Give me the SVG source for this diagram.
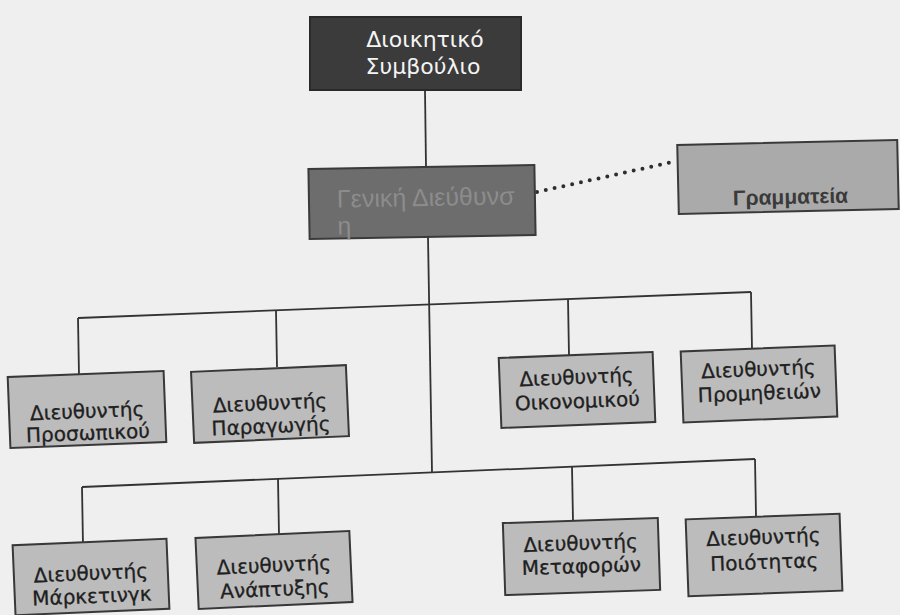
<svg xmlns="http://www.w3.org/2000/svg" width="900" height="615" viewBox="0 0 900 615">
<style>
.bg{fill:#efefef}
.dir rect{fill:#bcbcbc;stroke:#383838;stroke-width:2}
.dir text{font-family:"DejaVu Sans","Liberation Sans",sans-serif;font-size:20px;fill:#202020;stroke:#202020;stroke-width:0.3;text-anchor:middle}
.top rect{fill:#3b3b3b;stroke:#2a2a2a;stroke-width:2}
.top text{font-family:"DejaVu Sans","Liberation Sans",sans-serif;font-size:22px;fill:#f4f4f4;text-anchor:middle}
.gen rect{fill:#6d6d6d;stroke:#3a3a3a;stroke-width:2}
.gen text{font-family:"Liberation Sans",Arial,sans-serif;font-size:25px;fill:#8c8c8c}
.sec rect{fill:#aaaaaa;stroke:#3a3a3a;stroke-width:2}
.sec text{font-family:"Liberation Sans",Arial,sans-serif;font-size:21px;font-weight:bold;fill:#3a3a3a;text-anchor:middle}
.conn line{stroke:#333;stroke-width:1.8;fill:none}
.conn .dot{stroke:#2e2e2e;stroke-width:4;stroke-linecap:round;stroke-dasharray:0 9}
</style>
<rect class="bg" x="0" y="0" width="900" height="615"/>

<g id="connectors" class="conn">
  <line x1="425" y1="90" x2="426" y2="167"/>
  <line class="dot" x1="537" y1="192" x2="677" y2="161"/>
  <line x1="428" y1="237" x2="432" y2="472"/>
  <line x1="78" y1="318" x2="751" y2="292"/>
  <line x1="78" y1="318" x2="79" y2="376"/>
  <line x1="276" y1="310.4" x2="277" y2="367"/>
  <line x1="568" y1="299" x2="569" y2="356"/>
  <line x1="751" y1="292" x2="752" y2="349"/>
  <line x1="82" y1="487" x2="755" y2="459"/>
  <line x1="82" y1="487" x2="83" y2="545"/>
  <line x1="278" y1="478.8" x2="279" y2="535"/>
  <line x1="572" y1="466.6" x2="573" y2="521"/>
  <line x1="755" y1="459" x2="756" y2="516"/>
</g>

<g id="board" class="top">
  <rect x="310" y="17" width="211" height="73"/>
  <text x="425" y="47">Διοικητικό</text>
  <text x="423" y="74">Συμβούλιο</text>
</g>

<g id="general" class="gen" transform="rotate(-1 422 202)">
  <rect x="309" y="167" width="226" height="70"/>
  <text x="337" y="206">Γενική Διεύθυνσ</text>
  <text x="337" y="233">η</text>
</g>

<g id="secretariat" class="sec" transform="rotate(-1.3 788 177)">
  <rect x="678" y="142.5" width="220" height="69"/>
  <text x="790" y="204">Γραμματεία</text>
</g>

<g id="personnel" class="dir" transform="rotate(-2.2 87 409.5)">
  <rect x="9" y="374" width="156" height="71"/>
  <text x="87" y="418">Διευθυντής</text>
  <text x="87" y="440">Προσωπικού</text>
</g>

<g id="production" class="dir" transform="rotate(-2.5 270 404)">
  <rect x="192.5" y="368.5" width="155" height="71"/>
  <text x="270" y="410">Διευθυντής</text>
  <text x="270" y="433">Παραγωγής</text>
</g>

<g id="finance" class="dir" transform="rotate(-2.2 577 390)">
  <rect x="500" y="355" width="154" height="70"/>
  <text x="577" y="384">Διευθυντής</text>
  <text x="577" y="408">Οικονομικού</text>
</g>

<g id="supplies" class="dir" transform="rotate(-2.2 759 384)">
  <rect x="682" y="348.5" width="154" height="71"/>
  <text x="759" y="376">Διευθυντής</text>
  <text x="759" y="400">Προμηθειών</text>
</g>

<g id="marketing" class="dir" transform="rotate(-2.4 91 577)">
  <rect x="14" y="542" width="154" height="70"/>
  <text x="91" y="580">Διευθυντής</text>
  <text x="91" y="603">Μάρκετινγκ</text>
</g>

<g id="development" class="dir" transform="rotate(-2.6 274 570)">
  <rect x="197" y="534.5" width="154" height="71"/>
  <text x="274" y="572">Διευθυντής</text>
  <text x="274" y="596">Ανάπτυξης</text>
</g>

<g id="transport" class="dir" transform="rotate(-1.9 581 556.5)">
  <rect x="504" y="520.5" width="155" height="72"/>
  <text x="581" y="550">Διευθυντής</text>
  <text x="581" y="573">Μεταφορών</text>
</g>

<g id="quality" class="dir" transform="rotate(-2.1 764 554.5)">
  <rect x="687" y="516.5" width="154" height="77"/>
  <text x="764" y="544">Διευθυντής</text>
  <text x="764" y="569">Ποιότητας</text>
</g>
</svg>
